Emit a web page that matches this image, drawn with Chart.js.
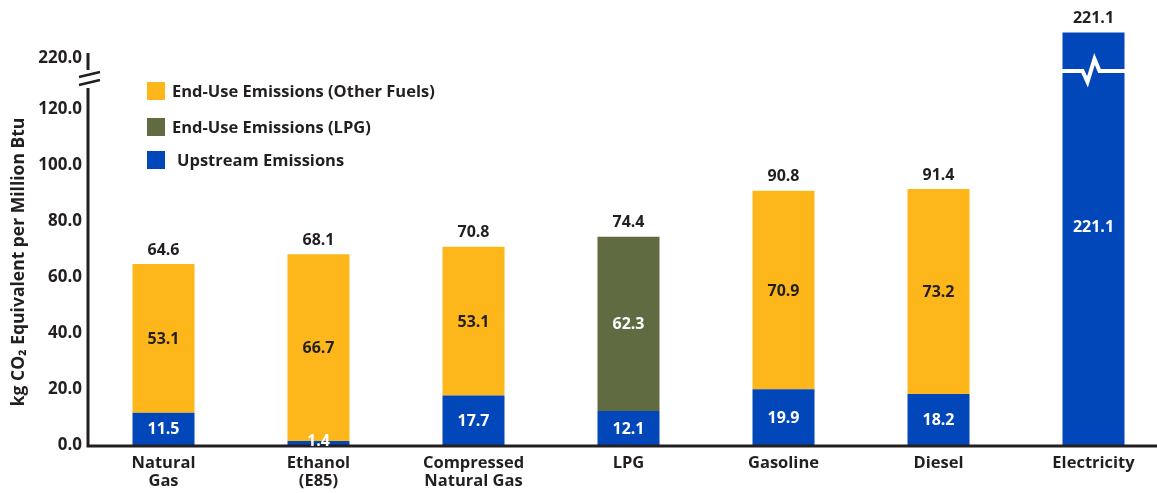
<!DOCTYPE html>
<html>
<head>
<meta charset="utf-8">
<script src="https://cdn.jsdelivr.net/npm/chart.js@4.4.1/dist/chart.umd.min.js"></script>
<style>
  html, body { margin: 0; padding: 0; background: #fff; overflow: hidden; }
  #wrap { position: relative; width: 1171px; height: 493px; }
</style>
</head>
<body>
<div id="wrap"><canvas id="emissionsChart" width="1171" height="493"></canvas></div>
<script>
// Emissions per fuel, kg CO2 equivalent per million Btu
const categories = [['Natural', 'Gas'], ['Ethanol', '(E85)'], ['Compressed', 'Natural Gas'], 'LPG', 'Gasoline', 'Diesel', 'Electricity'];
const upstream = [11.5, 1.4, 17.7, 12.1, 19.9, 18.2, 221.1];
const endUseOther = [53.1, 66.7, 53.1, null, 70.9, 73.2, null];
const endUseLPG = [null, null, null, 62.3, null, null, null];
const totals = [64.6, 68.1, 70.8, 74.4, 90.8, 91.4, 221.1];
const yTickValues = [0, 20, 40, 60, 80, 100, 120, 220];

const YELLOW = '#FDB71B';
const GREEN = '#616B41';
const BLUE = '#0147BA';
const INK = '#231f20';
const FONT = '"Open Sans", "Lato", sans-serif';

// broken axis: 0-120 linear, everything above the break squeezed near the top
function toDisplay(v) {
    if (v == null) return null;
    return v <= 120 ? v : 138.2 + (v - 220) * 8.3;
}

const legendItems = [
    { text: 'End-Use Emissions (Other Fuels)', color: YELLOW, y: 91, indent: 0 },
    { text: 'End-Use Emissions (LPG)', color: GREEN, y: 127, indent: 0 },
    { text: 'Upstream Emissions', color: BLUE, y: 160, indent: 5 }
];

const decorPlugin = {
    id: 'decor',
    afterDatasetsDraw(chart) {
        const ctx = chart.ctx;
        const area = chart.chartArea;
        const y = chart.scales.y;
        const axisX = area.left + 2;
        ctx.save();

        // axes
        ctx.strokeStyle = INK;
        ctx.lineWidth = 3;
        ctx.beginPath();
        ctx.moveTo(axisX, 53);
        ctx.lineTo(axisX, 70);
        ctx.moveTo(axisX, 88);
        ctx.lineTo(axisX, 446);
        ctx.moveTo(axisX - 1.5, 446);
        ctx.lineTo(chart.width, 446);
        ctx.stroke();
        // break marks on the y axis
        ctx.lineWidth = 2.5;
        ctx.beginPath();
        ctx.moveTo(axisX - 9, 77);
        ctx.lineTo(axisX + 12, 72);
        ctx.moveTo(axisX - 9, 85);
        ctx.lineTo(axisX + 12, 80);
        ctx.stroke();

        // y axis title
        ctx.save();
        ctx.translate(19, 262);
        ctx.rotate(-Math.PI / 2);
        ctx.fillStyle = INK;
        ctx.font = 'bold 17.5px ' + FONT;
        ctx.textAlign = 'center';
        ctx.textBaseline = 'middle';
        ctx.fillText('kg CO\u2082 Equivalent per Million Btu', 0, 0);
        ctx.restore();

        // legend
        ctx.font = 'bold 16.5px ' + FONT;
        ctx.textAlign = 'left';
        ctx.textBaseline = 'middle';
        legendItems.forEach(item => {
            ctx.fillStyle = item.color;
            ctx.fillRect(147, item.y - 9, 18, 18);
            ctx.fillStyle = INK;
            ctx.fillText(item.text, 172 + item.indent, item.y + 1);
        });

        // segment values
        ctx.font = 'bold 16px ' + FONT;
        ctx.textAlign = 'center';
        const segData = [upstream, endUseOther, endUseLPG];
        const segColors = ['#fff', INK, '#fff'];
        chart.data.datasets.forEach((ds, di) => {
            const meta = chart.getDatasetMeta(di);
            meta.data.forEach((el, i) => {
                const v = segData[di][i];
                if (v == null) return;
                const p = el.getProps(['x', 'y', 'base'], true);
                let cy = (p.y + p.base) / 2;
                if (i === 6) cy -= 12;
                if (i === 1 && di === 0) cy -= 3;
                ctx.fillStyle = segColors[di];
                ctx.fillText(v.toFixed(1), p.x, cy + 1);
            });
        });

        // totals above the bars
        ctx.fillStyle = INK;
        totals.forEach((t, i) => {
            let top = Infinity;
            let x = 0;
            chart.data.datasets.forEach((ds, di) => {
                if (ds.data[i] == null) return;
                const p = chart.getDatasetMeta(di).data[i].getProps(['x', 'y'], true);
                top = Math.min(top, p.y);
                x = p.x;
            });
            ctx.fillText(t.toFixed(1), x, top - 14);
        });

        // zigzag break on the electricity bar
        const el = chart.getDatasetMeta(0).data[6].getProps(['x', 'width'], true);
        const by = y.getPixelForValue(133.6);
        ctx.strokeStyle = '#fff';
        ctx.lineWidth = 4;
        ctx.lineJoin = 'miter';
        ctx.beginPath();
        ctx.moveTo(el.x - el.width / 2 - 1, by);
        ctx.lineTo(el.x - 11, by);
        ctx.lineTo(el.x - 6, by + 11);
        ctx.lineTo(el.x + 1, by - 12);
        ctx.lineTo(el.x + 6, by);
        ctx.lineTo(el.x + el.width / 2 + 1, by);
        ctx.stroke();

        ctx.restore();
    }
};

const ctxEmissions = document.getElementById('emissionsChart').getContext('2d');

const emissionsChart = new Chart(ctxEmissions, {
    type: 'bar',
    data: {
        labels: categories,
        datasets: [
            {
                label: 'Upstream Emissions',
                data: upstream.map(toDisplay),
                backgroundColor: BLUE
            },
            {
                label: 'End-Use Emissions (Other Fuels)',
                data: endUseOther,
                backgroundColor: YELLOW
            },
            {
                label: 'End-Use Emissions (LPG)',
                data: endUseLPG,
                backgroundColor: GREEN
            }
        ]
    },
    options: {
        responsive: false,
        animation: false,
        layout: { padding: { top: 25, left: 0, right: 0, bottom: 0 } },
        datasets: {
            bar: { barPercentage: 0.4, categoryPercentage: 1, borderWidth: 0 }
        },
        plugins: {
            legend: { display: false },
            tooltip: { enabled: false }
        },
        scales: {
            x: {
                stacked: true,
                grid: { display: false, drawTicks: false },
                border: { display: false },
                ticks: {
                    padding: 9,
                    color: INK,
                    maxRotation: 0,
                    autoSkip: false,
                    font: { family: FONT, size: 16.5, weight: 'bold', lineHeight: 1.1 }
                },
                afterFit: scale => { scale.height = 48; }
            },
            y: {
                stacked: true,
                min: 0,
                max: 150,
                grid: { display: false, drawTicks: false },
                border: { display: false },
                afterBuildTicks: scale => {
                    scale.ticks = yTickValues.map(v => ({ value: toDisplay(v) }));
                },
                ticks: {
                    padding: 4,
                    color: INK,
                    font: { family: FONT, size: 17, weight: 'bold' },
                    callback: (value, index) => yTickValues[index].toFixed(1)
                },
                afterFit: scale => { scale.width = 86; }
            }
        }
    },
    plugins: [decorPlugin]
});
</script>
</body>
</html>
